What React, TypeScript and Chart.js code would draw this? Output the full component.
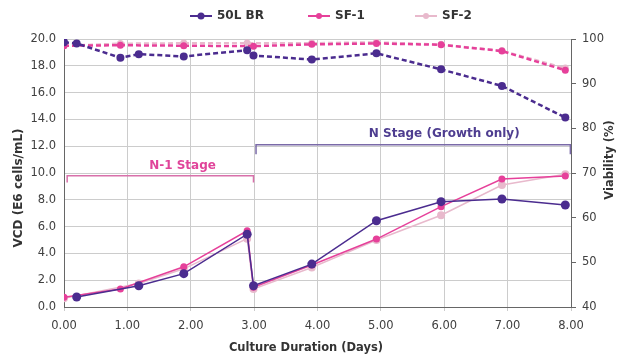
import React, { useEffect, useRef } from "react";
import { Chart, registerables } from "chart.js";

Chart.register(...registerables);

// ---- data ----
const seriesNames = ["50L BR", "SF-1", "SF-2"];

const brVcdDays = [0.2, 1.18, 1.89, 2.89, 2.99, 3.91, 4.93, 5.95, 6.91, 7.91];
const brVcd = [0.75, 1.59, 2.49, 5.43, 1.59, 3.2, 6.44, 7.86, 8.06, 7.61];
const brViaDays = [0, 0.2, 0.89, 1.18, 1.89, 2.89, 2.99, 3.91, 4.93, 5.95, 6.91, 7.91];
const brVia = [99.3, 99.0, 95.8, 96.6, 96.1, 97.5, 96.3, 95.4, 96.8, 93.2, 89.5, 82.4];

const sf1VcdDays = [0, 0.89, 1.89, 2.89, 2.99, 3.91, 4.93, 5.95, 6.91, 7.91];
const sf1Vcd = [0.72, 1.34, 3.0, 5.69, 1.47, 3.13, 5.07, 7.49, 9.55, 9.78];
const sf1ViaDays = [0, 0.89, 1.89, 2.99, 3.91, 4.93, 5.95, 6.91, 7.91];
const sf1Via = [98.5, 98.6, 98.5, 98.4, 98.8, 99.0, 98.7, 97.3, 93.0];

const sf2VcdDays = [0, 1.18, 1.89, 2.89, 2.99, 3.91, 4.93, 5.95, 6.91, 7.91];
const sf2Vcd = [0.65, 1.75, 2.85, 5.1, 1.35, 2.95, 5.0, 6.85, 9.1, 9.9];
const sf2ViaDays = [0, 0.89, 1.89, 2.89, 3.91, 4.93, 5.95, 6.91, 7.91];
const sf2Via = [98.5, 99.0, 99.1, 99.1, 99.1, 99.3, 98.8, 97.4, 93.5];

const xTickMin = 0;
const xTickMax = 8;
const vcdMin = 0;
const vcdMax = 20;
const viaMin = 40;
const viaMax = 100;

const stageLabels = ["N-1 Stage", "N Stage (Growth only)"];

const colors = ["#4b2c8f", "#e6409a", "#e8b9cc"];
const FONT = "'DejaVu Sans', Verdana, sans-serif";

const pts = (xs: number[], ys: number[]) => xs.map((x, i) => ({ x, y: ys[i] }));

function legendIcon(color: string, r: number) {
  const c = document.createElement("canvas");
  c.width = 24;
  c.height = 10;
  const g = c.getContext("2d")!;
  g.strokeStyle = color;
  g.lineWidth = 2;
  g.beginPath();
  g.moveTo(0, 5);
  g.lineTo(24, 5);
  g.stroke();
  g.fillStyle = color;
  g.beginPath();
  g.arc(12, 5, r, 0, Math.PI * 2);
  g.fill();
  return c;
}

const decorPlugin = {
  id: "decor",
  afterDraw(chart: any) {
    const ctx = chart.ctx;
    const x = chart.scales.x;
    const y = chart.scales.y;
    ctx.save();
    // legend
    const legendX = [190, 308, 415];
    ctx.font = `bold 12px ${FONT}`;
    ctx.textBaseline = "middle";
    ctx.textAlign = "left";
    seriesNames.forEach((n, i) => {
      const lx = legendX[i];
      ctx.strokeStyle = colors[i];
      ctx.lineWidth = 2;
      ctx.beginPath();
      ctx.moveTo(lx, 16);
      ctx.lineTo(lx + 22, 16);
      ctx.stroke();
      ctx.fillStyle = colors[i];
      ctx.beginPath();
      ctx.arc(lx + 11, 16, i === 0 ? 3.5 : 3, 0, Math.PI * 2);
      ctx.fill();
      ctx.fillStyle = "#333";
      ctx.fillText(n, lx + 27, 16);
    });

    // axis titles
    ctx.fillStyle = "#333";
    ctx.font = `bold 11.5px ${FONT}`;
    ctx.textAlign = "center";
    ctx.fillText("Culture Duration (Days)", 306, 348);
    ctx.save();
    ctx.translate(19, 188);
    ctx.rotate(-Math.PI / 2);
    ctx.font = `bold 12px ${FONT}`;
    ctx.fillText("VCD (E6 cells/mL)", 0, 0);
    ctx.restore();
    ctx.save();
    ctx.translate(610, 160);
    ctx.rotate(-Math.PI / 2);
    ctx.fillText("Viability (%)", 0, 0);
    ctx.restore();

    // stage brackets
    const drawBracket = (x0: number, x1: number, yv: number, yTick: number, col: string) => {
      const px0 = x.getPixelForValue(x0);
      const px1 = x.getPixelForValue(x1);
      const py = y.getPixelForValue(yv);
      const pt = y.getPixelForValue(yTick);
      ctx.strokeStyle = col;
      ctx.lineWidth = 1.5;
      ctx.beginPath();
      ctx.moveTo(px0, pt);
      ctx.lineTo(px0, py);
      ctx.lineTo(px1, py);
      ctx.lineTo(px1, pt);
      ctx.stroke();
    };
    drawBracket(0.05, 2.99, 9.8, 9.3, "#d870aa");
    drawBracket(3.03, 7.99, 12.1, 11.4, "#7a6aa8");

    ctx.font = `bold 12px ${FONT}`;
    ctx.textAlign = "center";
    ctx.fillStyle = "#e0449a";
    ctx.fillText(stageLabels[0], x.getPixelForValue(1.87), y.getPixelForValue(10.55));
    ctx.fillStyle = "#4e3d90";
    ctx.fillText(stageLabels[1], x.getPixelForValue(6.0), y.getPixelForValue(12.95));
    ctx.restore();
  },
};

export default function App() {
  const ref = useRef<HTMLCanvasElement>(null);
  useEffect(() => {
    document.body.style.margin = "0";
    const vcdLine = (i: number, d: any[], r: number) => ({
      label: seriesNames[i],
      data: d,
      yAxisID: "y",
      borderColor: colors[i],
      backgroundColor: colors[i],
      borderWidth: i === 2 ? 1.5 : 1.5,
      pointRadius: r,
      pointBorderWidth: 0,
      pointBackgroundColor: colors[i],
      tension: 0,
    });
    const viaLine = (i: number, d: any[], r: number, w: number) => ({
      label: seriesNames[i] + " viability",
      data: d,
      yAxisID: "y1",
      borderColor: colors[i],
      backgroundColor: colors[i],
      borderWidth: w,
      borderDash: [5, 3],
      pointRadius: r,
      pointBorderWidth: 0,
      pointBackgroundColor: colors[i],
      tension: 0,
    });
    const chart = new Chart(ref.current!, {
      type: "line",
      data: {
        datasets: [
          { ...viaLine(2, pts(sf2ViaDays, sf2Via), 3.5, 2), order: 6 },
          { ...viaLine(1, pts(sf1ViaDays, sf1Via), 3.5, 2.5), order: 5 },
          { ...viaLine(0, pts(brViaDays, brVia), 4, 2.5), order: 4 },
          { ...vcdLine(2, pts(sf2VcdDays, sf2Vcd), 4), order: 3 },
          { ...vcdLine(1, pts(sf1VcdDays, sf1Vcd), 3.5), order: 2 },
          { ...vcdLine(0, pts(brVcdDays, brVcd), 4.5), order: 1 },
        ] as any,
      },
      options: {
        animation: false,
        responsive: false,
        layout: { padding: { top: 39, left: 0, right: 0, bottom: 0 } },
        plugins: { legend: { display: false }, tooltip: { enabled: false } },
        scales: {
          x: {
            type: "linear",
            min: xTickMin,
            max: xTickMax,
            ticks: {
              stepSize: 1,
              callback: (v: any) => Number(v).toFixed(2),
              color: "#404040",
              font: { family: FONT, size: 11.5 },
              padding: 8,
            },
            grid: { color: "#cccccc", lineWidth: 1, tickLength: 4 },
            border: { color: "#666", width: 1 },
            afterFit: (s: any) => {
              s.height = 52;
            },
          },
          y: {
            position: "left",
            min: vcdMin,
            max: vcdMax,
            ticks: {
              stepSize: 2,
              callback: (v: any) => Number(v).toFixed(1),
              color: "#404040",
              font: { family: FONT, size: 11.5 },
              padding: 8,
            },
            grid: { color: "#cccccc", lineWidth: 1, drawTicks: false },
            border: { color: "#666", width: 1 },
            afterFit: (s: any) => {
              s.width = 64;
            },
          },
          y1: {
            position: "right",
            min: viaMin,
            max: viaMax,
            ticks: {
              stepSize: 10,
              color: "#404040",
              font: { family: FONT, size: 11.5 },
              padding: 6,
            },
            grid: { drawOnChartArea: false, color: "#666", tickLength: 5 },
            border: { color: "#666", width: 1 },
            afterFit: (s: any) => {
              s.width = 49;
            },
          },
        },
      },
      plugins: [decorPlugin],
    });
    return () => chart.destroy();
  }, []);
  return (
    <div style={{ width: 620, height: 359, background: "#fff" }}>
      <canvas ref={ref} width={620} height={359} style={{ display: "block" }} />
    </div>
  );
}
